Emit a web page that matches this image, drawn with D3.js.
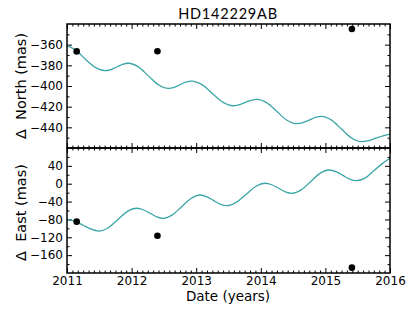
<!DOCTYPE html>
<html>
<head>
<meta charset="utf-8">
<script src="https://cdn.jsdelivr.net/npm/d3@7"></script>
<style>
  body { margin: 0; background: #fff; }
  svg { display: block; }
  .tick text { font-family: "DejaVu Sans", sans-serif; font-size: 12px; fill: #000; }
  .tick line { stroke: #000; stroke-width: 1; }
</style>
</head>
<body>
<svg id="chart" width="415" height="312"></svg>
<script>
// --- data ---
const obsYears = [2011.15, 2012.40, 2015.41];
const obsNorth = [-366.5, -366.4, -344.8];
const obsEast = [-85, -116.5, -188];

const modelYearsNorth = [2011.00, 2011.15, 2011.30, 2011.45, 2011.59, 2011.68, 2011.77, 2011.86, 2011.95,
  2012.105, 2012.26, 2012.415, 2012.57, 2012.66, 2012.75, 2012.84, 2012.93,
  2013.09, 2013.25, 2013.41, 2013.57, 2013.66, 2013.755, 2013.85, 2013.94,
  2014.095, 2014.25, 2014.405, 2014.56, 2014.655, 2014.75, 2014.845, 2014.94,
  2015.095, 2015.25, 2015.405, 2015.56, 2015.67, 2015.78, 2015.89, 2016.00];
const modelNorth = [-361, -366, -375, -382.5, -385.2, -384.1, -381.6, -379.1, -378,
  -381.5, -390.2, -398.8, -402.3, -401.3, -398.8, -396.2, -395.2,
  -398.7, -407.2, -415.6, -419.1, -418.2, -416, -413.8, -412.9,
  -416.3, -424.7, -433.1, -436.5, -435.5, -433, -430.4, -429.4,
  -433, -441.7, -450.3, -453.9, -452.8, -450.5, -448.2, -446.5];

const modelYearsEast = [2011.00, 2011.12, 2011.25, 2011.37, 2011.49, 2011.64, 2011.785, 2011.93, 2012.08,
  2012.18, 2012.285, 2012.39, 2012.49, 2012.63, 2012.775, 2012.92, 2013.06,
  2013.16, 2013.265, 2013.37, 2013.47, 2013.62, 2013.77, 2013.92, 2014.07,
  2014.17, 2014.275, 2014.38, 2014.48, 2014.625, 2014.77, 2014.915, 2015.06,
  2015.165, 2015.27, 2015.375, 2015.48, 2015.62, 2015.75, 2015.88, 2016.00];
const modelEast = [-81, -84, -93, -101.5, -106, -98.5, -80.5, -62.5, -55,
  -58.3, -66.2, -74.2, -77.5, -69.9, -51.4, -33, -25.3,
  -28.8, -37.2, -45.7, -49.2, -41.9, -24.1, -6.3, 1,
  -2.3, -10.2, -18.2, -21.5, -13.9, 4.6, 23.1, 30.7,
  27.2, 18.8, 10.3, 6.8, 13, 29, 45, 57];

const yearTicks = [2011, 2012, 2013, 2014, 2015, 2016];
const northTicks = [-440, -420, -400, -380, -360];
const eastTicks = [-160, -120, -80, -40, 0, 40];

const svg = d3.select("#chart");
const left = 67, right = 390;
const top1 = 24, bot1 = 148, top2 = 148, bot2 = 273;
const lineColor = "#3aa6a6";

const x = d3.scaleLinear().domain([2011, 2016]).range([left, right]);
const yN = d3.scaleLinear().domain([-460, -340]).range([bot1, top1]);
const yE = d3.scaleLinear().domain([-200, 80]).range([bot2, top2]);

const monthTicks = d3.range(0, 61).map(i => 2011 + i / 12).filter((d, i) => i % 12 !== 0);

// Draw one panel: frame, inward ticks on all four sides, curve, points
function drawPanel(y, yTop, yBot, majors, minors, years, values, obs, showX) {
    const g = svg.append("g");

    // major / minor ticks, pointing inside
    const addAxis = (axis, tx, ty, labels) => {
        const a = g.append("g").attr("transform", `translate(${tx},${ty})`).call(axis);
        a.select(".domain").remove();
        if (!labels) a.selectAll("text").remove();
        return a;
    };

    addAxis(d3.axisLeft(y).tickValues(majors).tickSize(-5).tickPadding(4).tickFormat(d3.format("d")), left, 0, true);
    addAxis(d3.axisLeft(y).tickValues(minors).tickSize(-2.5), left, 0, false);
    addAxis(d3.axisRight(y).tickValues(majors).tickSize(-5), right, 0, false);
    addAxis(d3.axisRight(y).tickValues(minors).tickSize(-2.5), right, 0, false);

    addAxis(d3.axisTop(x).tickValues(yearTicks).tickSize(-5), 0, yTop, false);
    addAxis(d3.axisTop(x).tickValues(monthTicks).tickSize(-2.5), 0, yTop, false);
    addAxis(d3.axisBottom(x).tickValues(yearTicks).tickSize(-5).tickPadding(3).tickFormat(d3.format("d")), 0, yBot, showX);
    addAxis(d3.axisBottom(x).tickValues(monthTicks).tickSize(-2.5), 0, yBot, false);

    // model curve
    const line = d3.line()
        .x((d, i) => x(years[i]))
        .y(d => y(d))
        .curve(d3.curveMonotoneX);

    g.append("path")
        .datum(values)
        .attr("d", line)
        .attr("fill", "none")
        .attr("stroke", lineColor)
        .attr("stroke-width", 1.3);

    // observations
    g.selectAll("circle")
        .data(obs)
        .enter()
        .append("circle")
        .attr("cx", (d, i) => x(obsYears[i]))
        .attr("cy", d => y(d))
        .attr("r", 3.3)
        .attr("fill", "#000");

    // frame
    g.append("rect")
        .attr("x", left)
        .attr("y", yTop)
        .attr("width", right - left)
        .attr("height", yBot - yTop)
        .attr("fill", "none")
        .attr("stroke", "#000")
        .attr("stroke-width", 1.5);
}

drawPanel(yN, top1, bot1, northTicks, d3.range(-450, -340, 20), modelYearsNorth, modelNorth, obsNorth, false);
drawPanel(yE, top2, bot2, eastTicks, d3.range(-180, 80, 40), modelYearsEast, modelEast, obsEast, true);

// title and labels
svg.append("text")
    .attr("x", 228)
    .attr("y", 19.3)
    .attr("text-anchor", "middle")
    .style("font-family", "Lato, sans-serif")
    .style("font-size", "14.5px")
    .style("letter-spacing", "0.8px")
    .text("HD142229AB");

svg.append("text")
    .attr("x", 228)
    .attr("y", 300.5)
    .attr("text-anchor", "middle")
    .style("font-family", "DejaVu Sans, sans-serif")
    .style("font-size", "13.5px")
    .text("Date (years)");

const yLabel = (text, cy) => svg.append("text")
    .attr("transform", `translate(26,${cy}) rotate(-90)`)
    .attr("text-anchor", "middle")
    .style("font-family", "DejaVu Sans, sans-serif")
    .style("font-size", "14.5px")
    .style("white-space", "pre")
    .text(text);

yLabel("Δ  North (mas)", (top1 + bot1) / 2);
yLabel("Δ  East (mas)", (top2 + bot2) / 2 + 2);
</script>
</body>
</html>
